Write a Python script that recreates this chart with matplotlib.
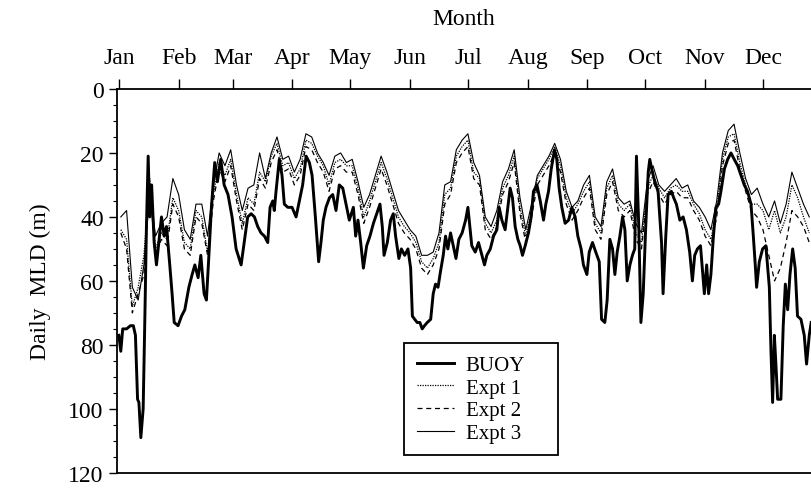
import numpy as np
import matplotlib.pyplot as plt
from matplotlib.ticker import MultipleLocator

plt.rcParams['font.family'] = ['Liberation Serif', 'DejaVu Serif']

# month ticks (day of year of the 1st of each month)
months = ["Jan", "Feb", "Mar", "Apr", "May", "Jun",
          "Jul", "Aug", "Sep", "Oct", "Nov", "Dec"]
month_days = [1, 32, 60, 91, 121, 152, 182, 213, 244, 274, 305, 335]

# BUOY daily MLD (m)
buoy_day = [1, 2, 3, 5, 7, 8.5, 9.6, 10.7, 11.4, 12.4, 13.6, 14.5, 15.3, 16.2, 17, 18,
            19.3, 20.5, 21.7, 23.1, 24.5, 25.7, 27.4, 28.6, 29.7, 31.7, 33.5, 35.2, 37.3,
            39, 40.4, 42.1, 43.5, 45.2, 46.4, 47.6, 49, 50.7, 52.1, 53.8, 55.6, 57.6,
            59.7, 61.8, 64.4, 66, 67.8, 69.6, 71.3, 73, 74.7, 76.5, 78.2, 79.4, 80.8,
            81.6, 82.5, 84.2, 85.6, 86.8, 88.6, 90.8, 92.9, 94.6, 96.3, 98.1, 99.8,
            101.2, 102.9, 104.6, 105.8, 107, 108.4, 110.2, 111.9, 113.6, 115.3, 117.1,
            118.8, 120.5, 122.6, 123.8, 125, 126.4, 127.8, 129.5, 131.2, 133, 134.7,
            136.4, 137.6, 138.5, 140.2, 141.9, 143.3, 144.5, 146.2, 147.5, 149.2, 150.9,
            152.3, 153.2, 154.4, 155.7, 157.1, 158.3, 159.5, 160.9, 162.7, 164, 165.2,
            166.5, 167.8, 169.2, 170.4, 171.6, 173, 174.4, 175.8, 177.3, 179, 180.8, 182,
            184, 185.8, 187.5, 189.3, 190.6, 191.8, 193.6, 195.3, 197, 198.2, 199.6,
            201.3, 202.7, 203.9, 205.1, 206.5, 207.9, 209.1, 210.3, 211.7, 213.4, 214.8,
            216, 217.8, 219.5, 221.2, 222.4, 223.8, 225.2, 226.9, 228.1, 229.3, 230.7,
            232.4, 234.2, 235.9, 237.6, 239, 240.7, 241.9, 243.7, 244.9, 246.6, 248.3,
            250.1, 251.3, 253, 254.2, 255.6, 257, 258.2, 259.4, 260.8, 262.2, 263.4,
            264.6, 266, 267.3, 268.5, 269.4, 270.6, 271.7, 272.9, 274.2, 275.5, 276.3,
            277.7, 278.9, 280.6, 282.4, 283.2, 284.6, 285.8, 287.5, 288.7, 290.1, 291.9,
            293.6, 295.3, 297, 298.4, 299.6, 301, 302.6, 304.6, 305.8, 306.8, 308, 309.3,
            310.6, 312, 313.2, 315, 316.7, 318.4, 320.1, 321.9, 323.6, 325.3, 327, 328.8,
            330, 331, 331.7, 333.1, 334.8, 336.5, 338.3, 339.1, 340, 340.9, 341.7, 342.6,
            344.3, 345.5, 346.6, 347.8, 349, 350.4, 351.7, 352.9, 354.7, 356.4, 357.6,
            359, 360]
buoy_mld = [77, 82, 75, 75, 74, 74, 77, 97, 98, 109, 100, 71, 43, 21, 40, 30,
            48, 55, 48, 40, 46, 43, 55, 64, 73, 74, 71, 69, 62,
            58, 55, 59, 52, 64, 66, 53, 37, 23, 29, 22, 30, 33,
            40, 50, 55, 48, 40, 39, 40, 43, 45, 46, 48, 37, 35,
            38, 32, 22, 27, 36, 37, 37, 40, 35, 30, 21, 23,
            27, 40, 54, 48, 41, 37, 34, 33, 38, 30, 31,
            36, 41, 37, 46, 41, 48, 56, 49, 46, 42, 39,
            36, 43, 52, 48, 41, 39, 46, 53, 50, 52, 50,
            56, 71, 72, 73, 73, 75, 74, 73, 72, 64, 61,
            62, 57, 52, 46, 50, 45, 49, 53, 47, 45, 41, 37,
            49, 51, 48, 52, 55, 52, 50, 46, 44, 37, 41,
            44, 37, 31, 34, 43, 47, 49, 52, 49, 45, 40,
            32, 30, 35, 41, 36, 32, 25, 19, 22, 31, 37,
            42, 41, 37, 40, 46, 50, 55, 58, 51, 48, 51,
            54, 72, 73, 66, 47, 50, 58, 51, 46, 40, 44,
            60, 55, 52, 50, 21, 43, 73, 64, 43, 26, 22,
            26, 29, 32, 48, 64, 46, 33, 32, 34, 36, 41,
            40, 44, 51, 60, 52, 50, 49, 64, 55, 64, 58, 46,
            37, 36, 32, 25, 22, 20, 22, 24, 27, 30, 32, 36,
            46, 55, 62, 54, 50, 49, 62, 81, 98, 77, 86, 97,
            97, 74, 61, 69, 58, 50, 56, 71, 72, 77, 86,
            77, 73]

# model experiments, every third day
expt_day = np.arange(2, 360, 3)
expt1 = [44, 47, 68, 62, 52, 28, 50, 45, 47, 34, 38, 48, 50, 38, 40, 51, 33, 23, 27, 22,
         33, 42, 34, 36, 26, 29, 21, 17, 24, 23, 28, 25, 16, 17, 21, 24, 30, 23, 22, 24,
         24, 31, 40, 35, 29, 23, 28, 34, 40, 43, 45, 48, 54, 56, 53, 48, 33, 31, 21, 18,
         16, 26, 28, 42, 45, 41, 31, 27, 21, 37, 46, 38, 28, 25, 22, 18, 24, 34, 39, 36,
         32, 29, 42, 45, 31, 27, 36, 38, 36, 45, 48, 31, 27, 31, 34, 31, 30, 32, 32, 36,
         39, 44, 47, 38, 22, 15, 14, 23, 30, 36, 36, 38, 44, 38, 45, 40, 30, 34, 40, 45]
expt2 = [45, 50, 70, 64, 58, 31, 52, 47, 49, 36, 40, 50, 52, 40, 42, 52, 35, 25, 29, 24,
         35, 44, 36, 38, 28, 31, 23, 19, 26, 25, 30, 27, 18, 19, 23, 26, 32, 25, 24, 26,
         26, 33, 42, 37, 31, 25, 30, 36, 42, 45, 47, 50, 56, 58, 55, 50, 36, 33, 23, 20,
         18, 28, 30, 44, 47, 43, 33, 29, 23, 39, 48, 40, 30, 27, 24, 20, 26, 36, 41, 38,
         34, 31, 44, 47, 33, 29, 38, 40, 38, 47, 50, 33, 29, 33, 36, 33, 32, 34, 34, 38,
         41, 46, 49, 40, 24, 17, 16, 25, 32, 38, 40, 44, 52, 60, 56, 48, 38, 40, 43, 48]
expt3 = [40, 38, 62, 66, 55, 30, 46, 42, 40, 28, 33, 44, 47, 36, 36, 46, 30, 20, 24, 19,
         30, 38, 31, 30, 20, 28, 20, 15, 22, 21, 26, 22, 14, 15, 20, 23, 27, 21, 20, 23,
         22, 29, 37, 33, 27, 21, 26, 32, 38, 41, 44, 46, 52, 52, 51, 45, 30, 29, 19, 16,
         14, 23, 27, 40, 43, 38, 29, 25, 19, 34, 44, 36, 27, 24, 21, 17, 22, 32, 37, 35,
         30, 27, 40, 43, 29, 25, 34, 36, 35, 42, 45, 29, 24, 30, 32, 30, 28, 31, 30, 35,
         37, 40, 44, 35, 20, 13, 11, 20, 28, 33, 31, 36, 40, 35, 42, 36, 26, 31, 36, 40]


def main():
    fig = plt.figure(figsize=(8.12, 4.89), dpi=100)
    ax = fig.add_axes([0.144, 0.031, 0.855, 0.785])

    ax.plot(buoy_day, buoy_mld, color="black", lw=2.1, ls="-", label="BUOY", zorder=4)
    ax.plot(expt_day, expt1, color="black", lw=0.9, ls=(0, (1, 1)), label="Expt 1")
    ax.plot(expt_day, expt2, color="black", lw=0.9, ls=(0, (4, 3)), label="Expt 2")
    ax.plot(expt_day, expt3, color="black", lw=0.8, ls="-", label="Expt 3")

    ax.set_xlim(0, 360)
    ax.set_ylim(120, 0)

    ax.xaxis.tick_top()
    ax.xaxis.set_label_position("top")
    ax.set_xticks(month_days)
    ax.set_xticklabels(months)
    ax.set_xlabel("Month", fontsize=17, labelpad=17)
    ax.tick_params(axis="x", direction="out", length=7, width=1, labelsize=17, pad=8)

    ax.set_yticks([0, 20, 40, 60, 80, 100, 120])
    ax.yaxis.set_minor_locator(MultipleLocator(5))
    ax.tick_params(axis="y", which="major", direction="out", length=6, width=1, labelsize=17)
    ax.tick_params(axis="y", which="minor", direction="out", length=3, width=0.8)
    ax.set_ylabel("Daily  MLD (m)", fontsize=17)
    ax.yaxis.set_label_coords(-0.095, 0.5)

    ax.spines["right"].set_visible(False)
    for s in ["top", "left", "bottom"]:
        ax.spines[s].set_linewidth(1.3)

    leg = ax.legend(loc="upper left", bbox_to_anchor=(0.414, 0.0, 0.221, 0.339),
                    mode="expand", borderaxespad=0, fontsize=15,
                    handlelength=1.8, handletextpad=0.55, labelspacing=0.15,
                    borderpad=0.6, fancybox=False, framealpha=1, edgecolor="black")
    leg.get_frame().set_linewidth(1.3)

    fig.savefig("out.png", dpi=100)


if __name__ == "__main__":
    main()
